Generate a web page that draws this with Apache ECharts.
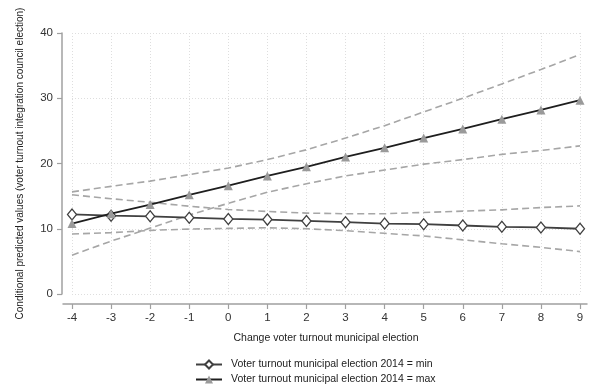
<!DOCTYPE html>
<html>
<head>
<meta charset="utf-8">
<script src="https://cdn.jsdelivr.net/npm/echarts@6/dist/echarts.min.js"></script>
<style>html,body{margin:0;padding:0;background:#fff;}#c{width:605px;height:391px;}</style>
</head>
<body>
<div id="c"></div>
<script>
const xValues = [-4,-3,-2,-1,0,1,2,3,4,5,6,7,8,9];
const minPred  = [12.2,12.0,11.9,11.7,11.5,11.4,11.2,11.0,10.8,10.7,10.5,10.3,10.2,10.0];
const minUpper = [15.2,14.6,14.05,13.45,12.95,12.65,12.4,12.3,12.3,12.5,12.7,12.9,13.25,13.5];
const minLower = [9.2,9.4,9.75,9.95,10.05,10.15,10.0,9.7,9.3,8.9,8.3,7.7,7.15,6.5];
const maxPred  = [10.8,12.3,13.7,15.2,16.6,18.1,19.5,21.0,22.4,23.9,25.3,26.8,28.2,29.7];
const maxUpper = [15.65,16.5,17.3,18.3,19.3,20.6,22.1,23.9,25.8,27.9,30.0,32.2,34.4,36.7];
const maxLower = [5.95,8.1,10.1,12.1,13.9,15.6,16.9,18.1,19.0,19.9,20.6,21.4,22.0,22.7];
const yTicks = [0,10,20,30,40];
const nameMin = 'Voter turnout municipal election 2014 = min';
const nameMax = 'Voter turnout municipal election 2014 = max';
const xTitle = 'Change voter turnout municipal election';
const yTitle = 'Conditional predicted values (voter turnout integration council election)';

const pts = arr => xValues.map((x,i)=>[x,arr[i]]);
const font = 'Arial, "Liberation Sans", sans-serif';
const dashed = arr => ({type:'line', data:pts(arr), symbol:'none', silent:true,
  lineStyle:{color:'#a6a6a6', width:1.6, type:[7,4]}, z:1});

const chart = echarts.init(document.getElementById('c'), null, {renderer:'canvas'});
chart.setOption({
  animation:false,
  backgroundColor:'#fff',
  grid:[
    {left:72, right:25, top:33, bottom:97},
    {left:63, right:18, top:33, bottom:97}
  ],
  xAxis:[
    {type:'value', gridIndex:0, min:-4, max:9, interval:1, offset:10,
     axisLine:{show:false, onZero:false},
     axisTick:{show:true, inside:false, length:5, lineStyle:{color:'#a0a0a0', width:1.2}},
     axisLabel:{color:'#333', fontSize:11.5, fontFamily:font, margin:8},
     splitLine:{show:true, lineStyle:{color:'#dedede', type:[1,2], width:1}},
     name:xTitle, nameLocation:'middle', nameGap:29,
     nameTextStyle:{color:'#222', fontSize:10.5, fontFamily:font}},
    {type:'value', gridIndex:1, min:0, max:1, offset:10,
     axisLine:{show:true, onZero:false, lineStyle:{color:'#a0a0a0', width:1.5}},
     axisTick:{show:false}, axisLabel:{show:false}, splitLine:{show:false}}
  ],
  yAxis:[
    {type:'value', gridIndex:0, min:0, max:40, interval:10, offset:10,
     axisLine:{show:true, onZero:false, lineStyle:{color:'#a0a0a0', width:1.5}},
     axisTick:{show:true, inside:false, length:5, lineStyle:{color:'#a0a0a0', width:1.2}},
     axisLabel:{color:'#333', fontSize:11.5, fontFamily:font, margin:9,
       customValues:yTicks},
     splitLine:{show:true, lineStyle:{color:'#dedede', type:[1,2], width:1}},
     name:yTitle, nameLocation:'middle', nameGap:37,
     nameTextStyle:{color:'#222', fontSize:10, fontFamily:font}},
    {type:'value', gridIndex:1, show:false, axisLine:{onZero:false}}
  ],
  legend:{
    orient:'vertical', left:190, top:354, itemGap:4, itemWidth:26, itemHeight:10,
    data:[nameMin, nameMax],
    textStyle:{color:'#222', fontSize:10.5, fontFamily:font, padding:[0,0,0,4]}
  },
  series:[
    dashed(minUpper), dashed(minLower), dashed(maxUpper), dashed(maxLower),
    {type:'line', name:nameMin, data:pts(minPred), symbol:'diamond', symbolSize:[9,11],
     lineStyle:{color:'#404040', width:1.8}, itemStyle:{color:'#fff', borderColor:'#404040', borderWidth:1.3}, z:3},
    {type:'line', name:nameMax, data:pts(maxPred), symbol:'triangle', symbolSize:9,
     lineStyle:{color:'#1e1e1e', width:1.8}, itemStyle:{color:'#9a9a9a', borderColor:'#9a9a9a', borderWidth:0}, z:4}
  ]
});
</script>
</body>
</html>
